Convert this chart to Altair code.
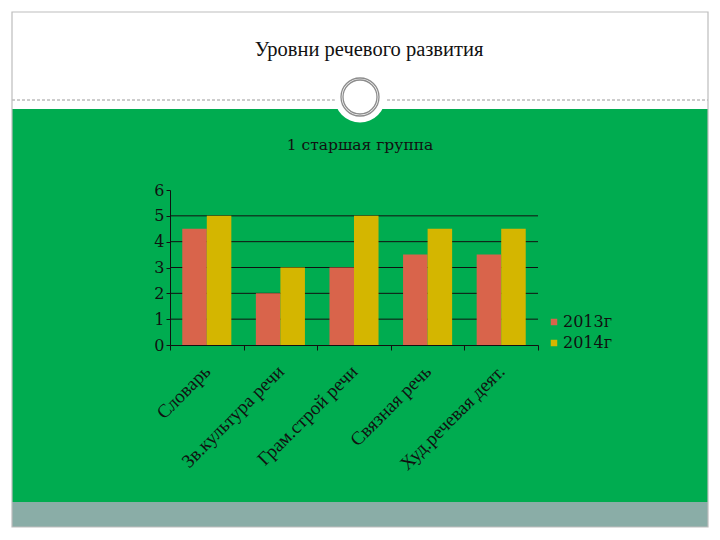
import altair as alt
import pandas as pd

# ---- data ----
categories = ["Словарь", "Зв.культура речи", "Грам.строй речи", "Связная речь", "Худ.речевая деят."]
years = ["2013г", "2014г"]
values_2013 = [4.5, 2, 3, 3.5, 3.5]
values_2014 = [5, 3, 5, 4.5, 4.5]
y_ticks = [0, 1, 2, 3, 4, 5, 6]
grid_values = [1, 2, 3, 4, 5]
title_text = "Уровни речевого развития"
subtitle_text = "1 старшая группа"

rows = []
for c, a, b in zip(categories, values_2013, values_2014):
    rows.append({"category": c, "year": years[0], "value": a})
    rows.append({"category": c, "year": years[1], "value": b})
df = pd.DataFrame(rows)
grid_df = pd.DataFrame({"value": grid_values})

# ---- layout (pixels) ----
W, H = 368, 155
OX, OY = 170, 190
one = pd.DataFrame({"k": [0]})

GREEN = "#00AC50"
RED = "#D9644B"
YELLOW = "#D4B600"
INK = "#111111"


def box(x0, y0, x1, y1, **kw):
    return alt.Chart(one).mark_rect(**kw).encode(
        x=alt.value(x0 - OX), x2=alt.value(x1 - OX),
        y=alt.value(y0 - OY), y2=alt.value(y1 - OY))


def dot(cx, cy, **kw):
    return alt.Chart(one).mark_point(shape="circle", opacity=1, **kw).encode(
        x=alt.value(cx - OX), y=alt.value(cy - OY))


def label(txt, cx, cy, **kw):
    return alt.Chart(one).mark_text(text=txt, align="center", baseline="middle", **kw).encode(
        x=alt.value(cx - OX), y=alt.value(cy - OY))


green = box(12, 109, 708, 502, fill=GREEN)
band = box(12, 502, 708, 527, fill="#8AADA7")
dash = alt.Chart(one).mark_rule(stroke="#9a9a9a", strokeDash=[3, 2], strokeWidth=1).encode(
    x=alt.value(12 - OX), x2=alt.value(708 - OX), y=alt.value(100 - OY))
bump = dot(360, 97, filled=True, fill="white", size=2600, strokeWidth=0)
ring1 = dot(360, 97, filled=False, stroke="#8c8c8c", strokeWidth=1.3, size=1444)
ring2 = dot(360, 97, filled=False, stroke="#8c8c8c", strokeWidth=1.3, size=1156)
frame = box(12, 12, 708, 527, fill="transparent", stroke="#bdbdbd", strokeWidth=1.2)
title = label(title_text, 369, 50, font="Liberation Serif", fontSize=20.5, color=INK)
subtitle = label(subtitle_text, 360, 145, font="DejaVu Serif", fontSize=15.5, color=INK)

y_axis = alt.Axis(title=None, values=y_ticks, grid=False, labelFont="DejaVu Serif",
                  labelFontSize=16, labelColor=INK, tickSize=4, tickColor=INK,
                  domainColor=INK, labelPadding=2, zindex=1)

gridlines = alt.Chart(grid_df).mark_rule(stroke=INK, strokeWidth=1).encode(
    y=alt.Y("value:Q", scale=alt.Scale(domain=[0, 6]), axis=y_axis))

bars = alt.Chart(df).mark_bar().encode(
    x=alt.X("category:N", sort=categories,
            scale=alt.Scale(paddingInner=0, paddingOuter=0),
            axis=alt.Axis(title=None, labelAngle=-45, labelAlign="right", labelBaseline="middle",
                          labelFont="Liberation Serif", labelFontSize=19, labelColor=INK,
                          tickBand="extent", tickSize=5, tickColor=INK, domainColor=INK,
                          labelPadding=18, zindex=1, grid=False)),
    xOffset=alt.XOffset("year:N", sort=years, scale=alt.Scale(paddingInner=0, paddingOuter=0.5)),
    y=alt.Y("value:Q", scale=alt.Scale(domain=[0, 6]), axis=y_axis),
    color=alt.Color("year:N", sort=years, scale=alt.Scale(domain=years, range=[RED, YELLOW]),
                    legend=alt.Legend(orient="none", legendX=376, legendY=124, title=None,
                                      symbolType="square", symbolSize=42, symbolStrokeWidth=0,
                                      labelFont="DejaVu Serif", labelFontSize=16, labelColor=INK,
                                      rowPadding=5, padding=0, labelOffset=1, zindex=1)),
)

chart = alt.layer(green, band, dash, bump, ring1, ring2, frame, title, subtitle, gridlines, bars).properties(
    width=W, height=H,
    padding={"left": OX, "top": OY, "right": 720 - OX - W, "bottom": 540 - OY - H},
    autosize=alt.AutoSizeParams(type="none"),
    background="white",
).configure_view(stroke="transparent")

chart.save("out.html", embed_options={"renderer": "svg", "actions": False})
